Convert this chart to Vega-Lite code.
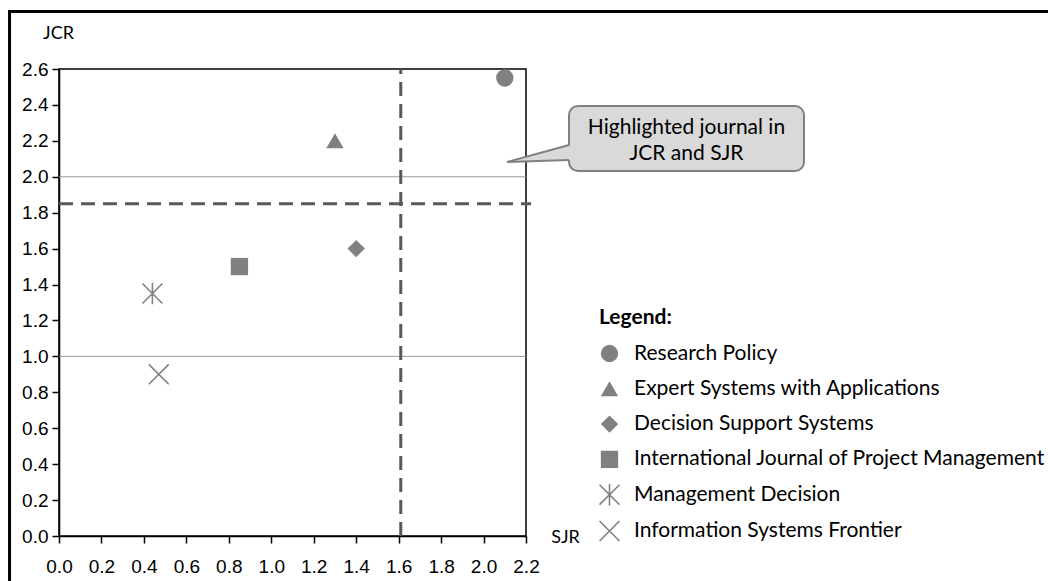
{
  "$schema": "https://vega.github.io/schema/vega-lite/v6.json",
  "autosize": {"type": "none"},
  "width": 467,
  "height": 467,
  "padding": {"left": 59, "top": 69, "right": 522, "bottom": 45},
  "background": "white",
  "config": {
    "view": {"stroke": "#000000", "strokeWidth": 1.5},
    "axis": {
      "domainColor": "#000000", "domainWidth": 1.5,
      "tickColor": "#000000", "tickWidth": 1.5, "tickSize": 7,
      "labelFont": "Liberation Sans", "labelFontSize": 19, "labelColor": "#000000",
      "titleFont": "Lato", "titleFontSize": 18, "titleFontWeight": "normal", "titleColor": "#000000",
      "grid": false, "format": ".1f", "labelOverlap": false, "labelFlush": false, "labelSeparation": 0,
      "titleAnchor": null, "titleAlign": "center", "titleBaseline": "middle", "titleAngle": 0
    },
    "axisX": {"labelPadding": 14, "titleX": 506, "titleY": 1, "tickCount": 11},
    "axisY": {"labelPadding": 4, "titleX": -1, "titleY": -36, "tickCount": 13}
  },
  "layer": [
    {
      "data": {"values": [
        {"journal": "Research Policy", "SJR": 2.1, "JCR": 2.55},
        {"journal": "Expert Systems with Applications", "SJR": 1.3, "JCR": 2.2},
        {"journal": "Decision Support Systems", "SJR": 1.4, "JCR": 1.6},
        {"journal": "International Journal of Project Management", "SJR": 0.85, "JCR": 1.5},
        {"journal": "Management Decision", "SJR": 0.44, "JCR": 1.35},
        {"journal": "Information Systems Frontier", "SJR": 0.47, "JCR": 0.9}
      ]},
      "mark": {"type": "point", "filled": true, "opacity": 1, "size": 300, "color": "#808080"},
      "encoding": {
        "x": {
          "field": "SJR", "type": "quantitative",
          "scale": {"domain": [0, 2.2], "nice": false, "zero": false},
          "title": "SJR"
        },
        "y": {
          "field": "JCR", "type": "quantitative",
          "scale": {"domain": [0, 2.6], "nice": false, "zero": false},
          "title": "JCR"
        },
        "shape": {
          "field": "journal", "type": "nominal",
          "scale": {
            "domain": ["Research Policy", "Expert Systems with Applications", "Decision Support Systems", "International Journal of Project Management", "Management Decision", "Information Systems Frontier"],
            "range": ["circle", "triangle-up", "diamond", "square",
              "M-1.086,-1.214L1.214,1.086L1.086,1.214L-1.214,-1.086ZM-1.214,1.086L1.086,-1.214L1.214,-1.086L-1.086,1.214ZM-0.09,-1.25L0.09,-1.25L0.09,1.25L-0.09,1.25Z",
              "M-1.086,-1.214L1.214,1.086L1.086,1.214L-1.214,-1.086ZM-1.214,1.086L1.086,-1.214L1.214,-1.086L-1.086,1.214Z"]
          },
          "legend": {
            "title": "Legend:", "orient": "none", "legendX": 540, "legendY": 238,
            "padding": 0,
            "titleFont": "Lato", "titleFontSize": 21, "titleFontWeight": "bold", "titleColor": "#000000", "titlePadding": 15,
            "labelFont": "Lato", "labelFontSize": 21, "labelColor": "#000000", "labelOffset": 14, "labelLimit": 600,
            "symbolSize": 300, "symbolFillColor": "#808080", "symbolStrokeWidth": 0, "symbolOpacity": 1,
            "rowPadding": 13.3
          }
        }
      }
    },
    {
      "data": {"values": [{"x1": -0.233, "x2": 4.9, "y1": -0.5, "y2": 2.92}]},
      "mark": {"type": "rect", "fill": null, "stroke": "#000000", "strokeWidth": 3},
      "encoding": {
        "x": {"field": "x1", "type": "quantitative"},
        "x2": {"field": "x2"},
        "y": {"field": "y1", "type": "quantitative"},
        "y2": {"field": "y2"}
      }
    },
    {
      "data": {"values": [{"y": 1.0, "x1": 0, "x2": 2.2}, {"y": 2.0, "x1": 0, "x2": 2.2}]},
      "mark": {"type": "rule", "color": "#9a9a9a", "strokeWidth": 1},
      "encoding": {
        "y": {"field": "y", "type": "quantitative"},
        "x": {"field": "x1", "type": "quantitative"},
        "x2": {"field": "x2"}
      }
    },
    {
      "data": {"values": [{"x": 1.61, "y1": 0, "y2": 2.6}]},
      "mark": {"type": "rule", "color": "#595959", "strokeWidth": 3, "strokeDash": [14, 8]},
      "encoding": {
        "x": {"field": "x", "type": "quantitative"},
        "y": {"field": "y1", "type": "quantitative"},
        "y2": {"field": "y2"}
      }
    },
    {
      "data": {"values": [{"y": 1.85, "x1": 0, "x2": 2.224}]},
      "mark": {"type": "rule", "color": "#595959", "strokeWidth": 3, "strokeDash": [14, 8]},
      "encoding": {
        "y": {"field": "y", "type": "quantitative"},
        "x": {"field": "x1", "type": "quantitative"},
        "x2": {"field": "x2"}
      }
    },
    {
      "data": {"values": [{"x1": 2.4026, "x2": 3.5096, "y1": 2.032, "y2": 2.394}]},
      "mark": {"type": "rect", "fill": "#d9d9d9", "stroke": "#808080", "strokeWidth": 2, "cornerRadius": 9},
      "encoding": {
        "x": {"field": "x1", "type": "quantitative"},
        "x2": {"field": "x2"},
        "y": {"field": "y1", "type": "quantitative"},
        "y2": {"field": "y2"}
      }
    },
    {
      "data": {"values": [{"x": 2.1105, "lo": 2.0822, "hi": 2.0822}, {"x": 2.412, "lo": 2.0933, "hi": 2.1769}]},
      "mark": {"type": "area", "orient": "vertical", "fill": "#d9d9d9", "opacity": 1},
      "encoding": {
        "x": {"field": "x", "type": "quantitative"},
        "y": {"field": "lo", "type": "quantitative"},
        "y2": {"field": "hi"}
      }
    },
    {
      "data": {"values": [
        {"edge": "top", "x": 2.1105, "y": 2.0822}, {"edge": "top", "x": 2.4026, "y": 2.1769},
        {"edge": "bottom", "x": 2.1105, "y": 2.0822}, {"edge": "bottom", "x": 2.4026, "y": 2.0933}
      ]},
      "mark": {"type": "line", "color": "#808080", "strokeWidth": 2},
      "encoding": {
        "x": {"field": "x", "type": "quantitative"},
        "y": {"field": "y", "type": "quantitative"},
        "detail": {"field": "edge"}
      }
    },
    {
      "data": {"values": [
        {"x": 2.956, "y": 2.2715, "t": "Highlighted journal in"},
        {"x": 2.956, "y": 2.1268, "t": "JCR and SJR"}
      ]},
      "mark": {"type": "text", "font": "Lato", "fontSize": 21, "color": "#000000", "align": "center", "baseline": "middle"},
      "encoding": {
        "x": {"field": "x", "type": "quantitative"},
        "y": {"field": "y", "type": "quantitative"},
        "text": {"field": "t"}
      }
    }
  ]
}
